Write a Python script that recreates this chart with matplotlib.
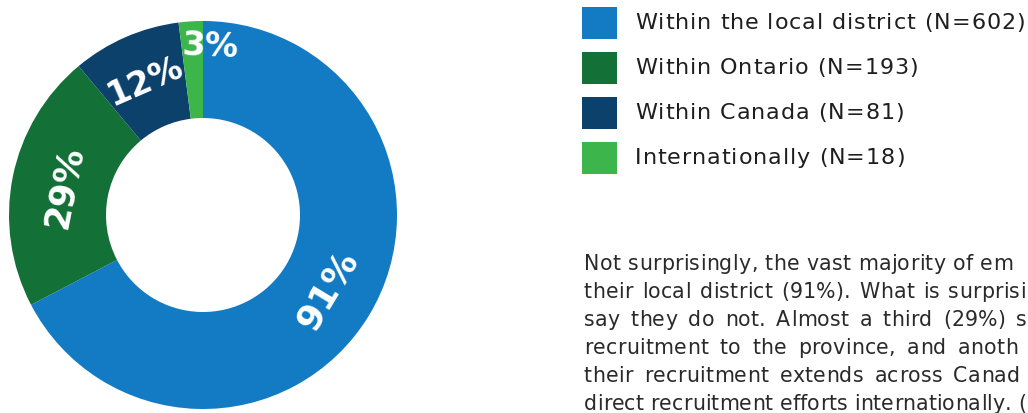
import numpy as np
import matplotlib
matplotlib.use('Agg')
import matplotlib.pyplot as plt
from matplotlib.patches import Rectangle
from matplotlib import font_manager
from matplotlib.font_manager import FontProperties

# data
categories = ['Within the local district', 'Within Ontario', 'Within Canada', 'Internationally']
counts = [602, 193, 81, 18]
pct_labels = ['91%', '29%', '12%', '3%']
colors = ['#127bc3', '#137037', '#0c416b', '#3cb54a']

# body copy, as far as it is visible on the cropped page, with the x where each line stops
body_lines = [
    "Not surprisingly, the vast majority of em",
    "their local district (91%). What is surprisi",
    "say they do not. Almost a third (29%) s",
    "recruitment to the province, and anoth",
    "their recruitment extends across Canad",
    "direct recruitment efforts internationally. (",
]
body_end_x = [1013, 1026, 1027, 1018, 1020, 1026]

W, H = 1028, 413
DPI = 100
fig = plt.figure(figsize=(W / DPI, H / DPI), dpi=DPI)

FAMILY = 'DejaVu Sans'
_font = font_manager.get_font(font_manager.findfont(FontProperties(family=FAMILY)))

def advances(s, size):
    # glyph advance widths in pixels
    _font.set_size(size, DPI)
    return [_font.load_char(ord(c)).linearHoriAdvance / 65536 for c in s]

def spaced_text(x0, y, s, size, color, track, end_x=None):
    widths = advances(s, size)
    natural = sum(widths) + track * (len(s) - 1)
    n_sp = s.count(' ')
    extra = 0.0
    if end_x is not None and n_sp:
        extra = (end_x - x0 - natural) / n_sp
        if extra < 0:
            # line too long: tighten the letters instead of the word gaps
            extra = 0.0
            track = (end_x - x0 - sum(widths)) / (len(s) - 1)
    x = x0
    for c, w in zip(s, widths):
        if c != ' ':
            fig.text(x / W, y / H, c, fontsize=size, family=FAMILY, color=color,
                     ha='left', va='baseline')
        x += w + track + (extra if c == ' ' else 0)

# donut
R = 194
cx, cy = 203, H - 215
ax = fig.add_axes([(cx - R) / W, (cy - R) / H, 2 * R / W, 2 * R / H])
wedges, _ = ax.pie(counts, colors=colors, startangle=90, counterclock=False,
                   radius=1.0, wedgeprops=dict(width=0.5, linewidth=0))
ax.set_xlim(-1, 1)
ax.set_ylim(-1, 1)
ax.set_aspect('equal')
ax.axis('off')

# label placement (radial fraction, angle shift in degrees, font size)
label_style = [(0.75, 0, 26), (0.73, 0, 25), (0.75, 0, 24), (0.87, -6, 24)]
for w, lab, (rf, dth, fs) in zip(wedges, pct_labels, label_style):
    th = (w.theta1 + w.theta2) / 2 + dth
    th = (th + 180) % 360 - 180
    x, y = rf * np.cos(np.radians(th)), rf * np.sin(np.radians(th))
    rot = th - 90
    if rot < -90:
        rot += 180
    ax.text(x, y, lab, ha='center', va='center', rotation=rot, rotation_mode='anchor',
            color='white', fontsize=fs, fontweight='bold', family=FAMILY)

# legend
sq_x, sq_w, sq_h = 582, 35, 32
row_y = [23, 68, 113, 158]
leg_size = 16
first = f'{categories[0]} (N={counts[0]})'
nat = sum(advances(first, leg_size))
leg_track = (1025 - 635 - nat) / (len(first) - 1)
for yc, cat, n, c in zip(row_y, categories, counts, colors):
    fig.patches.append(Rectangle((sq_x / W, (H - yc - sq_h / 2) / H), sq_w / W, sq_h / H,
                                 transform=fig.transFigure, color=c, lw=0))
    spaced_text(635, H - yc - 6, f'{cat} (N={n})', leg_size, '#1e1e1e', leg_track)

# body text
for i, (line, ex) in enumerate(zip(body_lines, body_end_x)):
    spaced_text(584, H - 270 - 28 * i, line, 14.8, '#2a2a2a', 0.3, end_x=ex)

fig.savefig('out.png', dpi=DPI)
